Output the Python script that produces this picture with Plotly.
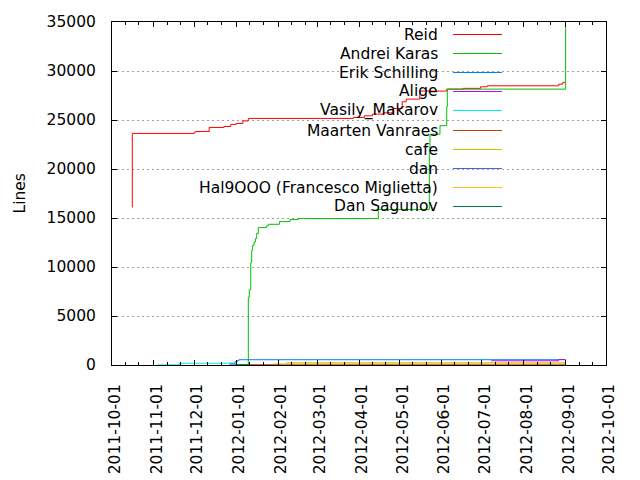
import plotly.graph_objects as go
import pandas as pd

# cumulative lines of code per author
reid_dates = ["2011-10-16 00:00", "2011-10-16 01:00", "2011-12-01", "2011-12-02", "2011-12-12",
              "2011-12-23", "2011-12-28", "2012-01-01", "2012-01-06", "2012-01-10", "2012-03-28",
              "2012-04-05", "2012-04-11", "2012-04-19", "2012-04-26", "2012-05-03", "2012-05-06",
              "2012-05-16", "2012-06-05", "2012-06-17", "2012-06-30", "2012-07-05", "2012-08-27",
              "2012-08-30", "2012-09-01"]
reid_lines = [16070, 23630, 23760, 23830, 24240, 24340, 24550, 24650, 24910, 25160, 25260,
              25430, 25600, 25730, 26180, 26860, 27130, 27950, 28150, 28230, 28390, 28490, 28660,
              28840, 28840]

andrei_dates = ["2012-01-01 10:00", "2012-01-10 00:00", "2012-01-10 17:00", "2012-01-11 19:00",
                "2012-01-12 12:00", "2012-01-13 05:00", "2012-01-14 05:00", "2012-01-15 05:00",
                "2012-01-16 05:00", "2012-01-17 10:00", "2012-01-23 14:00", "2012-01-24 19:00",
                "2012-02-02 00:00", "2012-02-09 22:00", "2012-02-16 00:00", "2012-04-15 07:00",
                "2012-05-23 02:00", "2012-05-23 14:00", "2012-05-31 00:00", "2012-06-05 00:00",
                "2012-06-05 10:00", "2012-09-01 02:00"]
andrei_lines = [50, 6930, 7680, 10440, 11700, 12210, 12550, 12900, 13410, 14020, 14220, 14360,
                14630, 14840, 14940, 15860, 21580, 23550, 24420, 26340, 28150, 34590]

erik_dates = ["2011-12-27", "2011-12-31", "2012-01-02", "2012-01-03", "2012-09-01"]
erik_lines = [170, 330, 450, 540, 540]

alige_dates = ["2012-07-08", "2012-08-27", "2012-09-01"]
alige_lines = [430, 560, 560]

vasily_dates = ["2011-11-04", "2011-11-20", "2012-01-01"]
vasily_lines = [20, 180, 180]

maarten_dates = ["2012-01-10", "2012-09-01"]
maarten_lines = [30, 30]

cafe_dates = ["2012-02-07", "2012-09-01"]
cafe_lines = [230, 230]

dan_dates = ["2011-12-27", "2012-01-01"]
dan_lines = [80, 80]

hal_dates = ["2012-01-29", "2012-09-01"]
hal_lines = [120, 120]

sagunov_dates = ["2012-01-01", "2012-01-10"]
sagunov_lines = [20, 20]

authors = ["Reid", "Andrei Karas", "Erik Schilling", "Alige", "Vasily_Makarov",
           "Maarten Vanraes", "cafe", "dan", "Hal9OOO (Francesco Miglietta)", "Dan Sagunov"]
series = [(reid_dates, reid_lines), (andrei_dates, andrei_lines), (erik_dates, erik_lines),
          (alige_dates, alige_lines), (vasily_dates, vasily_lines),
          (maarten_dates, maarten_lines), (cafe_dates, cafe_lines), (dan_dates, dan_lines),
          (hal_dates, hal_lines), (sagunov_dates, sagunov_lines)]

# gnuplot png default line colours
colors = ["#ff0000", "#00c000", "#0080ff", "#c000ff", "#00eeee",
          "#c04000", "#c8c800", "#4169e1", "#ffc020", "#008040"]

font = "DejaVu Sans"

fig = go.Figure()
for name, (d, v), c in zip(authors, series, colors):
    fig.add_trace(go.Scatter(x=pd.to_datetime(d, format="ISO8601"), y=v, name=name,
                             mode="lines", line=dict(color=c, width=1, shape="hv"),
                             showlegend=False))

# minor ticks at roughly thirds of each month, like gnuplot
months = pd.date_range("2011-10-01", "2012-09-01", freq="MS")
minor_vals = [m + pd.Timedelta(days=k) for m in months for k in (10, 20)]

# gnuplot-style key: right aligned text, line sample on the right
# plot area sits at screen x 112..606, y 22..365 (page body adds an 8px margin)
for i, (name, c) in enumerate(zip(authors, colors)):
    yp = (365 - (round(34 + 19.11 * i) + 0.5)) / 343
    fig.add_annotation(x=(440 - 112) / 494, y=yp, xref="paper", yref="paper",
                       text=name, showarrow=False, xanchor="right", yanchor="middle",
                       font=dict(family=font, size=15.5, color="black"))
    fig.add_shape(type="line", xref="paper", yref="paper",
                  x0=(453 - 112) / 494, x1=(502 - 112) / 494, y0=yp, y1=yp,
                  line=dict(color=c, width=1))

# key area hides the grid behind it
fig.add_shape(type="rect", xref="paper", yref="paper", layer="between",
              x0=(124 - 112) / 494, x1=(512 - 112) / 494, y0=(365 - 214) / 343, y1=1,
              fillcolor="white", line=dict(width=0))

# y label, placed by hand (axis title is clamped inside the margin)
fig.add_annotation(x=(19 - 112) / 494, y=0.5, xref="paper", yref="paper",
                   text="Lines", textangle=-90, showarrow=False,
                   xanchor="center", yanchor="middle",
                   font=dict(family=font, size=15.5, color="black"))

fig.update_layout(
    width=632, height=472,
    margin=dict(l=104, r=34, t=14, b=115),
    paper_bgcolor="white", plot_bgcolor="white",
    font=dict(family=font, size=15.5, color="black"),
    xaxis=dict(type="date", range=["2011-10-01", "2012-10-01"], automargin=False,
               dtick="M1", tick0="2011-10-01", tickformat="%Y-%m-%d",
               tickangle=-90, ticks="inside", ticklen=5, tickcolor="black",
               showline=True, linecolor="black", linewidth=1, mirror="ticks",
               showgrid=False, zeroline=False, ticklabelstandoff=12, ticklabelshift=3,
               minor=dict(tickmode="array", tickvals=minor_vals, ticks="inside",
                          ticklen=3, tickcolor="black", showgrid=False)),
    yaxis=dict(range=[0, 35000], dtick=5000, tickformat="d", automargin=False,
               ticks="inside", ticklen=5, tickcolor="black",
               showline=True, linecolor="black", linewidth=1, mirror="ticks",
               showgrid=True, gridcolor="#a0a0a0", griddash="2px,3px", gridwidth=1,
               zeroline=False, ticklabelstandoff=12),
)

fig.write_html("out.html")
